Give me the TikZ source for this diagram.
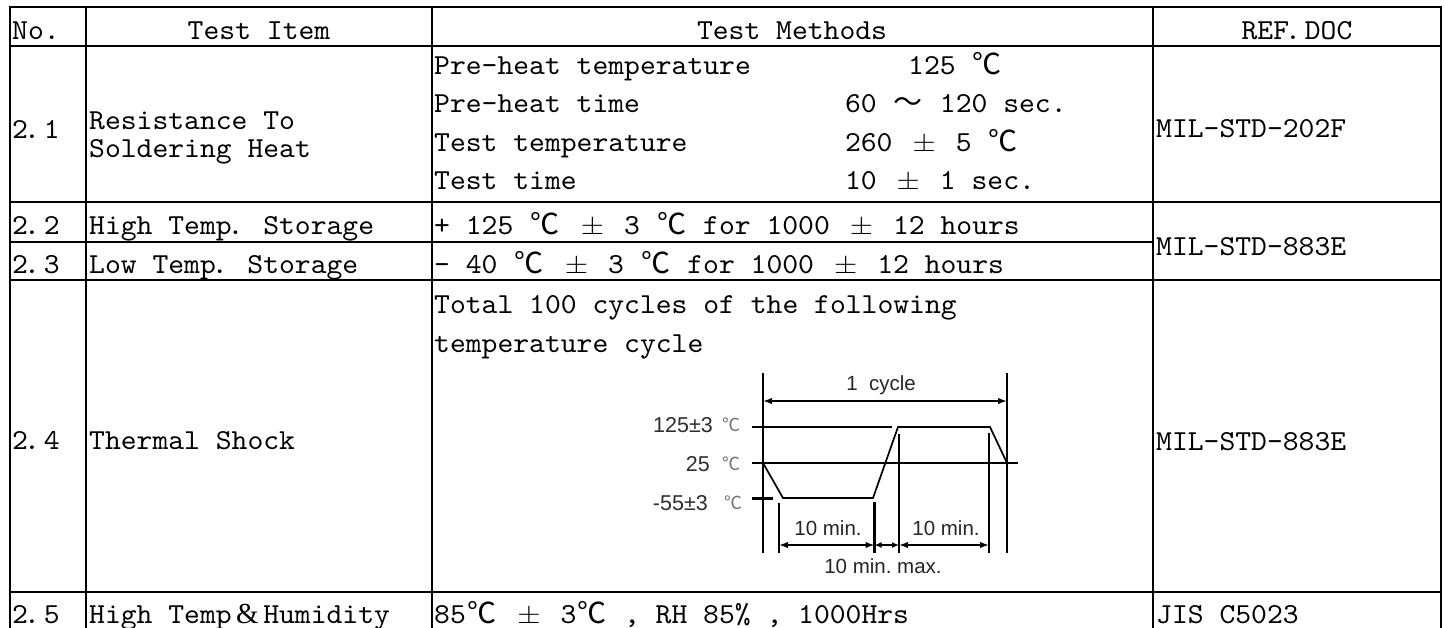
\documentclass[tikz,border=0pt]{standalone}
\usepackage{fontspec}
\usepackage{graphicx}
\usetikzlibrary{arrows.meta}
\newfontfamily\tbf{lmmono10-regular}[Extension=.otf,FakeStretch=1.04]
\newfontfamily\cjkf{Noto Sans CJK SC}
\newfontfamily\arialf{Liberation Sans}
\newfontfamily\serf{Liberation Serif}
\frenchspacing
\newcommand\dc{\makebox[31.6pt]{\cjkf ℃}}
\newcommand\pmx{\makebox[31.6pt]{\scalebox{1.2}[1.05]{$\pm$}}}
\newcommand\tld{\makebox[31.6pt]{\cjkf ～}}
\newcommand\ampx{\makebox[31.6pt]{\serf\&}}
\newcommand\dt{\makebox[15.8pt][l]{\kern-4pt.}}
\tikzset{
  tb/.style={font=\tbf\fontsize{29}{34}\selectfont, inner sep=0pt, anchor=base west},
  tbc/.style={tb, anchor=base},
  gridln/.style={line width=2pt, line cap=rect},
  chh/.style={line width=1.7pt},
  chv/.style={line width=2.2pt},
  lab/.style={font=\arialf\fontsize{20.5}{24}\selectfont, text=black!85, inner sep=0pt, anchor=base},
  llab/.style={font=\arialf\fontsize{21.5}{24}\selectfont, text=black!82, inner sep=0pt, anchor=base east},
  deg/.style={font=\cjkf\fontsize{18}{20}\selectfont, text=black!55, inner sep=0pt},
  dimln/.style={line width=1.7pt, {Latex[length=9pt,width=6.5pt]}-{Latex[length=9pt,width=6.5pt]}},
}
\begin{document}
\begin{tikzpicture}[x=1pt,y=-1pt]
\useasboundingbox (0,0) rectangle (1445,627);
\fill[white] (0,0) rectangle (1445,627);
% table grid
\draw[gridln] (10,7) -- (1441,7);
\draw[gridln] (10,46) -- (1441,46);
\draw[gridln] (10,202) -- (1441,202);
\draw[gridln] (10,242) -- (1153,242);
\draw[gridln] (10,280) -- (1441,280);
\draw[gridln] (10,592) -- (1441,592);
\foreach \xx in {10,86,432,1153,1441} \draw[gridln] (\xx,7) -- (\xx,640);
% header
\node[tb] (hno) at (12,39) {No.};
\node[tbc] (hitem) at (259,39) {Test Item};
\node[tbc] (hmeth) at (792,39) {Test Methods};
\node[tbc] (href) at (1297,39) {REF\dt DOC};
% row 2.1
\node[tb] (n21) at (12,138) {2\dt 1};
\node[tb] (i21a) at (89,129) {Resistance To};
\node[tb] (i21b) at (89,157) {Soldering Heat};
\node[tb] (m21a) at (434,74) {Pre-heat temperature};
\node[tb] (v21a) at (908,74) {125 \dc};
\node[tb] (m21b) at (434,112) {Pre-heat time};
\node[tb] (v21b) at (844.8,112) {60 \tld{} 120 sec.};
\node[tb] (m21c) at (434,151) {Test temperature};
\node[tb] (v21c) at (844.8,151) {260 \pmx{} 5 \dc};
\node[tb] (m21d) at (434,189) {Test time};
\node[tb] (v21d) at (844.8,189) {10 \pmx{} 1 sec.};
\node[tb] (r21) at (1156,137) {MIL-STD-202F};
% rows 2.2 / 2.3
\node[tb] (n22) at (12,234) {2\dt 2};
\node[tb] (i22) at (89,234) {High Temp\dt{} Storage};
\node[tb] (m22) at (434,234) {+ 125 \dc{} \pmx{} 3 \dc{} for 1000 \pmx{} 12 hours};
\node[tb] (n23) at (12,273) {2\dt 3};
\node[tb] (i23) at (89,273) {Low Temp\dt{} Storage};
\node[tb] (m23) at (434,273) {- 40 \dc{} \pmx{} 3 \dc{} for 1000 \pmx{} 12 hours};
\node[tb] (r22) at (1156,255) {MIL-STD-883E};
% row 2.4
\node[tb] (n24) at (12,449) {2\dt 4};
\node[tb] (i24) at (89,449) {Thermal Shock};
\node[tb] (m24a) at (434,313) {Total 100 cycles of the following};
\node[tb] (m24b) at (434,352) {temperature cycle};
\node[tb] (r24) at (1156,450) {MIL-STD-883E};
% row 2.5
\node[tb] (n25) at (12,623) {2\dt 5};
\node[tb] (i25) at (89,623) {High Temp\ampx Humidity};
\node[tb] (m25) at (434,623) {85\dc{} \pmx{} 3\dc{} , RH 85\% , 1000Hrs};
\node[tb] (r25) at (1156,623) {JIS C5023};
% thermal cycle chart
\coordinate (va1) at (763,373); \coordinate (vb1) at (763,553);
\coordinate (va2) at (1007,373); \coordinate (vb2) at (1007,553);
\coordinate (va3) at (779,503); \coordinate (vb3) at (779,553);
\coordinate (va4) at (874.5,502); \coordinate (vb4) at (874.5,553);
\coordinate (va5) at (899,434); \coordinate (vb5) at (899,553);
\coordinate (va6) at (989,433); \coordinate (vb6) at (989,553);
\foreach \i in {1,...,6} \draw[chv] (va\i) -- (vb\i);
\coordinate (h125a) at (752,427); \coordinate (h125b) at (892,427);
\coordinate (h25a) at (752,463); \coordinate (h25b) at (1018,463);
\coordinate (t55a) at (752,498); \coordinate (t55b) at (773,498);
\draw[chh] (h125a) -- (h125b);
\draw[chh] (h25a) -- (h25b);
\draw[line width=3pt] (t55a) -- (t55b);
\coordinate (p0) at (763,463); \coordinate (p1) at (783,498);
\coordinate (p2) at (873,498); \coordinate (p3) at (898,427);
\coordinate (p4) at (990,427); \coordinate (p5) at (1007,463);
\draw[chh, line join=miter] (p0) -- (p1) -- (p2) -- (p3) -- (p4) -- (p5);
\coordinate (cy1) at (763,401); \coordinate (cy2) at (1007,401);
\draw[dimln] (cy1) -- (cy2);
\coordinate (d1) at (779,545); \coordinate (d2) at (874.5,545);
\coordinate (d3) at (899,545); \coordinate (d4) at (989,545);
\draw[dimln] (d1) -- (d2);
\draw[line width=1.7pt, {Latex[length=7pt,width=6pt]}-{Latex[length=7pt,width=6pt]}] (d2) -- (d3);
\draw[dimln] (d3) -- (d4);
\node[lab] (lcyc) at (881,390) {1\ \ cycle};
\node[lab] (lm1) at (828,535) {10 min.};
\node[lab] (lm2) at (946,535) {10 min.};
\node[lab] (lm3) at (883,573) {10 min. max.};
\node[llab] (t125) at (713,432) {125±3};
\node[deg] (c125) at (731,425) {℃};
\node[llab] (t25) at (710,471) {25};
\node[deg] (c25) at (731,464) {℃};
\node[llab] (t55) at (708,510) {-55±3};
\node[deg] (c55) at (733,503) {℃};
\end{tikzpicture}
\end{document}
